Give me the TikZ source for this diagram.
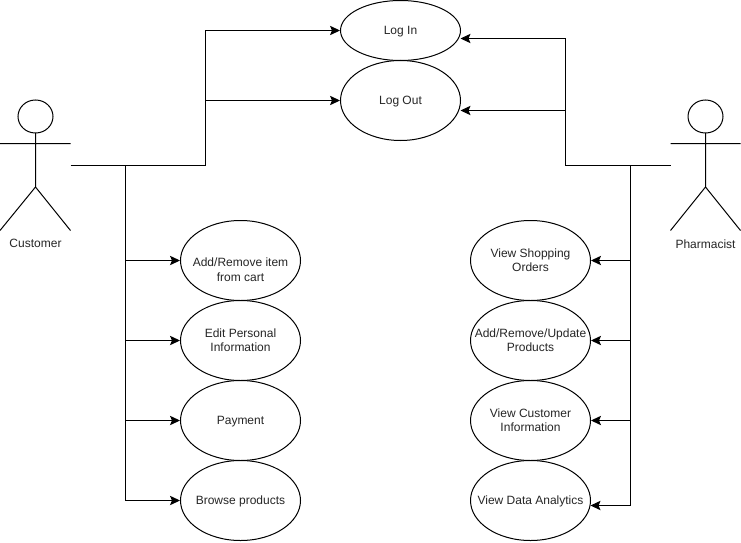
\documentclass[tikz,border=0pt]{standalone}
\usepackage{fontspec}
\setmainfont{Liberation Sans}
\usetikzlibrary{arrows.meta,shapes.geometric}
\tikzset{
  uc/.style={draw=black,fill=white,ellipse,line width=0.75pt,minimum width=90pt,minimum height=60pt,inner sep=0pt},
  lab/.style={font=\fontsize{9}{11}\selectfont,inner sep=0pt,align=center,text=black!85,yshift=-0.6pt},
  conn/.style={draw=black,line width=0.75pt,-{Stealth[length=7.5pt,width=7pt,inset=1.5pt]}},
  ln/.style={draw=black,line width=0.75pt}
}
\begin{document}
\begin{tikzpicture}[x=0.75pt,y=-0.75pt]
\useasboundingbox[fill=white] (0,0) rectangle (741,542);
\begin{scope}[shift={(0.5,0.5)}]
\node[uc,minimum height=45pt] (login) at (400,30) {};
\node[uc] (logout) at (400,100) {};
\node[uc] (cart) at (240,260) {};
\node[uc] (edit) at (240,340) {};
\node[uc] (pay) at (240,420) {};
\node[uc] (browse) at (240,500) {};
\node[uc] (orders) at (530,260) {};
\node[uc] (update) at (530,340) {};
\node[uc] (cinfo) at (530,420) {};
\node[uc] (data) at (530,500) {};
\node[lab] (logintext) at (400,30) {Log In};
\node[lab] (logouttext) at (400,100) {Log Out};
\node[lab] (carttext) at (240,268.5) {Add/Remove item\\from cart};
\node[lab] (edittext) at (240,339) {Edit Personal\\Information};
\node[lab] (paytext) at (240,420) {Payment};
\node[lab] (browsetext) at (240,500) {Browse products};
\node[lab] (orderstext) at (530,259) {View Shopping\\Orders};
\node[lab] (updatetext) at (530,339) {Add/Remove/Update\\Products};
\node[lab] (cinfotext) at (530,419) {View Customer\\Information};
\node[lab] (datatext) at (530,500) {View Data Analytics};
% customer actor
\draw[ln] (35,116) ellipse (17.5 and 16.5);
\draw[ln] (35,132.5) -- (35,186.5) (-0.5,143) -- (70,143) (35,186.5) -- (-0.5,230) (35,186.5) -- (70,230);
\node[lab] (cust) at (35,242.5) {Customer};
% pharmacist actor
\draw[ln] (705,116) ellipse (17.5 and 16.5);
\draw[ln] (705,132.5) -- (705,186.5) (670,143) -- (740,143) (705,186.5) -- (670,230) (705,186.5) -- (740,230);
\node[lab] (pharm) at (705,242.5) {Pharmacist};
\coordinate (cs) at (70,165);
\coordinate (ps) at (670,165);
\coordinate (lj) at (205,100);
\coordinate (cj) at (125,165);
\coordinate (rj) at (565,110);
\coordinate (pj) at (630,165);
\coordinate (loginR) at (460,38);
\coordinate (logoutR) at (460,110);
\coordinate (dataR) at (590,505);
\draw[conn] (cs) -- (205,165) -- (205,30) -- (login.west);
\draw[conn] (lj) -- (logout.west);
\draw[conn] (cj) |- (cart.west);
\draw[conn] (cj) |- (edit.west);
\draw[conn] (cj) |- (pay.west);
\draw[conn] (cj) |- (browse.west);
\draw[conn] (ps) -- (565,165) -- (565,38) -- (loginR);
\draw[conn] (rj) -- (logoutR);
\draw[conn] (pj) |- (orders.east);
\draw[conn] (pj) |- (update.east);
\draw[conn] (pj) |- (cinfo.east);
\draw[conn] (pj) |- (dataR);
\end{scope}
\end{tikzpicture}
\end{document}
